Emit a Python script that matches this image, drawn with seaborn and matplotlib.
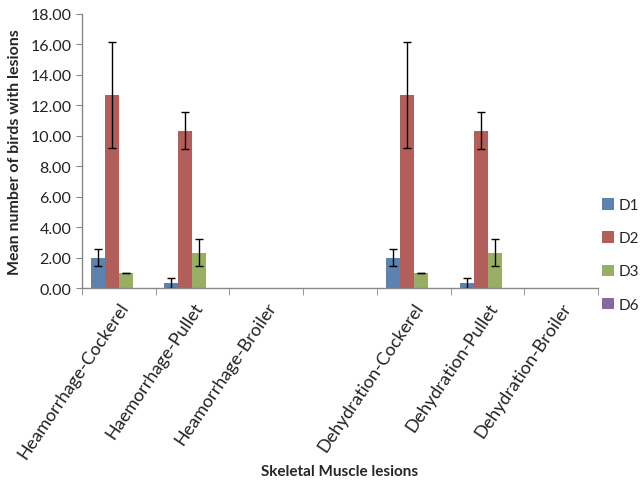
import numpy as np
import pandas as pd
import matplotlib
matplotlib.use("Agg")
import matplotlib.pyplot as plt
import seaborn as sns

# values
categories = ["Heamorrhage-Cockerel", "Haemorrhage-Pullet", "Heamorrhage-Broiler", " ",
              "Dehydration-Cockerel", "Dehydration-Pullet", "Dehydration-Broiler"]
series = ["D1", "D2", "D3", "D6"]
d1 = [2.00, 0.33, 0.00, np.nan, 2.00, 0.33, 0.00]
d2 = [12.67, 10.33, 0.00, np.nan, 12.67, 10.33, 0.00]
d3 = [1.00, 2.33, 0.00, np.nan, 1.00, 2.33, 0.00]
d6 = [0.00, 0.00, 0.00, np.nan, 0.00, 0.00, 0.00]
d1_err = [0.58, 0.33, np.nan, np.nan, 0.58, 0.33, np.nan]
d2_err = [3.48, 1.20, np.nan, np.nan, 3.48, 1.20, np.nan]
d3_err = [0.00, 0.88, np.nan, np.nan, 0.00, 0.88, np.nan]
d6_err = [np.nan] * 7
colors = ["#4F81BD", "#C0504D", "#9BBB59", "#8064A2"]

values = [d1, d2, d3, d6]
errors = [d1_err, d2_err, d3_err, d6_err]

rows = []
for s, vals in zip(series, values):
    for c, v in zip(categories, vals):
        rows.append({"lesion": c, "day": s, "mean": v})
df = pd.DataFrame(rows)

sns.set_style("white")
plt.rcParams["font.family"] = ["Lato", "DejaVu Sans"]

fig = plt.figure(figsize=(6.44, 4.81), dpi=100)
ax = fig.add_axes([0.127, 0.399, 0.802, 0.570])

width = 0.76
sns.barplot(data=df, x="lesion", y="mean", hue="day", order=categories,
            hue_order=series, palette=colors, width=width, errorbar=None,
            linewidth=0, dodge=True, ax=ax)

# error bars centred on each dodged bar
bw = width / len(series)
for j, (vals, errs) in enumerate(zip(values, errors)):
    xs = np.arange(len(categories)) - width / 2 + bw * (j + 0.5)
    ax.errorbar(xs, vals, yerr=errs, fmt="none", ecolor="black",
                elinewidth=1, capsize=3, capthick=1)

ax.set_ylim(0, 18)
ax.set_yticks(np.arange(0, 18.1, 2))
ax.set_yticklabels([f"{t:.2f}" for t in np.arange(0, 18.1, 2)])
ax.set_xlim(-0.5, len(categories) - 0.5)

ax.set_xticks(range(len(categories)))
ax.set_xticklabels(categories, rotation=56, ha="right", rotation_mode="anchor")
ax.set_xticks(np.arange(-0.5, len(categories)), minor=True)
ax.tick_params(axis="x", which="major", length=0, pad=8, labelsize=13, colors="#222222")
ax.tick_params(axis="x", which="minor", length=5, color="#888888", direction="out", bottom=True)
ax.tick_params(axis="y", length=4, color="#888888", direction="out", left=True,
               labelsize=11.5, colors="#222222")

for side in ["top", "right"]:
    ax.spines[side].set_visible(False)
for side in ["left", "bottom"]:
    ax.spines[side].set_color("#888888")
    ax.spines[side].set_linewidth(1)

ax.set_ylabel("Mean number of birds with lesions", fontsize=11.5, fontweight="bold", labelpad=6)
ax.set_xlabel("Skeletal Muscle lesions", fontsize=11, fontweight="bold", labelpad=2)

ax.legend(loc="center left", bbox_to_anchor=(0.935, 0.468), bbox_transform=fig.transFigure,
          frameon=False, labelspacing=1.25, handlelength=0.75, handleheight=0.75,
          handletextpad=0.3, fontsize=11, borderaxespad=0, borderpad=0)

fig.savefig("out.png", dpi=100)
